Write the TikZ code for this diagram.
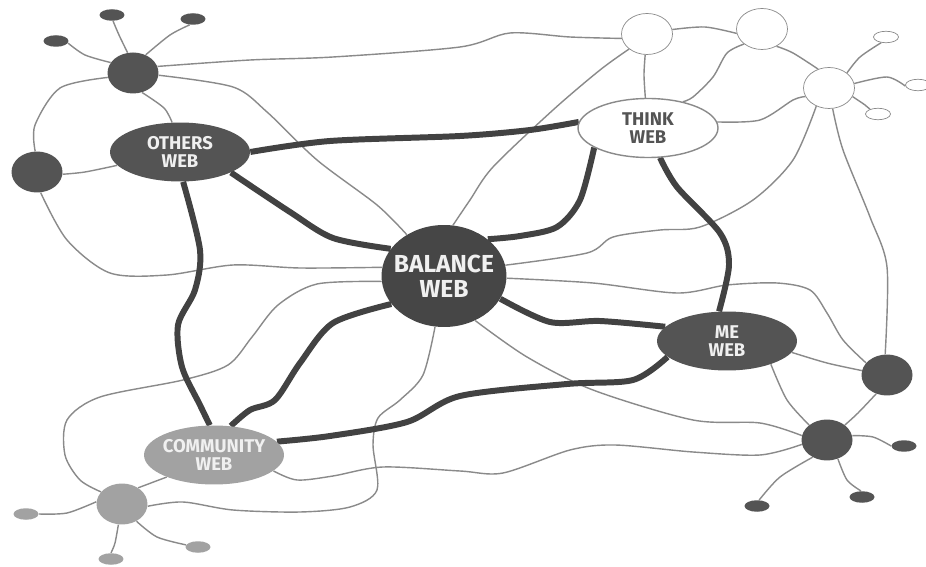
\documentclass[tikz,border=0pt]{standalone}
\usepackage{fontspec}
\setsansfont{Fira Sans}
\usepackage{tikz}
\usetikzlibrary{shapes.geometric,backgrounds}
\definecolor{webdark}{RGB}{84,84,84}
\definecolor{webcore}{RGB}{70,70,70}
\definecolor{weblight}{RGB}{162,162,162}
\definecolor{webrope}{RGB}{66,66,66}
\definecolor{webthread}{RGB}{138,138,138}
\definecolor{webtext}{RGB}{240,240,240}

\newcommand{\webname}[2]{\makebox[0pt]{#1}\\\makebox[0pt]{#2}}

\begin{document}
\begin{tikzpicture}[x=0.02cm, y=-0.02cm,
    web/.style={ellipse, inner sep=0pt, minimum width=2.8cm, minimum height=1.18cm,
        align=center, font=\sffamily\bfseries\fontsize{10.5}{10.5}\selectfont},
    darkweb/.style={web, fill=webdark, text=webtext},
    lightweb/.style={web, fill=weblight, text=webtext},
    whiteweb/.style={web, fill=white, draw=webthread, line width=0.8pt, text=webdark},
    core/.style={web, fill=webcore, text=webtext, minimum width=2.5cm,
        minimum height=2.04cm, font=\sffamily\bfseries\fontsize{14}{14}\selectfont},
    hub/.style={ellipse, inner sep=0pt, minimum width=1.02cm, minimum height=0.82cm},
    bud/.style={ellipse, inner sep=0pt, minimum width=0.5cm, minimum height=0.23cm},
    rope/.style={draw=webrope, line width=3.4pt},
    thread/.style={draw=webthread, line width=0.8pt}
]
\useasboundingbox (0,0) rectangle (926,567);

% main webs
\node[core] (bal) at (444,276) {\webname{BALANCE}{WEB}};
\node[darkweb] (oth) at (180,152) {\webname{OTHERS}{WEB}};
\node[whiteweb] (thk) at (648,128) {\webname{THINK}{WEB}};
\node[darkweb] (me) at (727,341) {\webname{ME}{WEB}};
\node[lightweb] (com) at (214,455) {\webname{COMMUNITY}{WEB}};

% satellites
\node[hub, fill=webdark] (osat1) at (133,73) {};
\node[hub, fill=webdark] (osat2) at (37,172) {};
\node[bud, fill=webdark] (obud1) at (56,41) {};
\node[bud, fill=webdark] (obud2) at (112,15) {};
\node[bud, fill=webdark] (obud3) at (193,19) {};
\node[hub, fill=white, draw=webthread] (tsat1) at (647,34) {};
\node[hub, fill=white, draw=webthread] (tsat2) at (762,29) {};
\node[hub, fill=white, draw=webthread] (tsat3) at (829,88) {};
\node[bud, fill=white, draw=webthread] (tbud1) at (886,37) {};
\node[bud, fill=white, draw=webthread] (tbud2) at (918,85) {};
\node[bud, fill=white, draw=webthread] (tbud3) at (878,114) {};
\node[hub, fill=webdark] (msat1) at (887,375) {};
\node[hub, fill=webdark] (msat2) at (827,440) {};
\node[bud, fill=webdark] (mbud1) at (904,446) {};
\node[bud, fill=webdark] (mbud2) at (862,497) {};
\node[bud, fill=webdark] (mbud3) at (757,506) {};
\node[hub, fill=weblight] (csat) at (122,504) {};
\node[bud, fill=weblight] (cbud1) at (26,514) {};
\node[bud, fill=weblight] (cbud2) at (111,559) {};
\node[bud, fill=weblight] (cbud3) at (198,547) {};

\begin{scope}[on background layer]
\fill[white] (0,0) rectangle (926,567);

% thin threads
\draw[thread] plot[smooth] coordinates {(osat1.15) (250,60) (333,57) (460,47) (510,33) (570,37) (tsat1.190)};
\draw[thread] plot[smooth] coordinates {(osat1.-5) (233,87) (267,112) (317,160) (377,205) (bal.132)};
\draw[thread] plot[smooth] coordinates {(osat1.-65) (164,108) (oth.105)};
\draw[thread] plot[smooth] coordinates {(osat1.190) (60,88) (35,125) (osat2.95)};
\draw[thread] plot[smooth] coordinates {(osat2.-5) (85,172) (oth.192)};
\draw[thread] plot[smooth] coordinates {(osat2.-80) (67,240) (110,273) (167,275) (233,265) (300,268) (bal.172)};
\draw[thread] plot[smooth] coordinates {(osat1.155) (85,55) (obud1.-10)};
\draw[thread] plot[smooth] coordinates {(osat1.105) (119,35) (obud2.-80)};
\draw[thread] plot[smooth] coordinates {(osat1.55) (170,35) (obud3.-120)};
\draw[thread] plot[smooth] coordinates {(bal.185) (317,284) (278,305) (252,337) (228,365) (183,380) (100,397) (67,420) (65,455) (80,480) (csat.150)};
\draw[thread] plot[smooth] coordinates {(bal.-100) (423,375) (400,400) (378,418) (373,445) (377,490) (350,507) (300,512) (233,510) (183,502) (csat.-5)};
\draw[thread] plot[smooth] coordinates {(csat.45) (com.205)};
\draw[thread] plot[smooth] coordinates {(com.-15) (297,480) (333,476) (383,467) (460,471) (503,473) (570,450) (615,445) (693,452) (760,455) (msat2.190)};
\draw[thread] plot[smooth] coordinates {(bal.-55) (527,357) (593,390) (693,420) (760,423) (msat2.170)};
\draw[thread] plot[smooth] coordinates {(bal.10) (587,253) (613,237) (660,230) (700,227) (753,200) (793,160) (tsat3.-125)};
\draw[thread] plot[smooth] coordinates {(bal.-2) (593,283) (677,293) (727,285) (777,283) (810,290) (827,313) (843,340) (msat1.150)};
\draw[thread] plot[smooth] coordinates {(tsat3.-80) (843,150) (870,217) (887,267) (msat1.95)};
\draw[thread] plot[smooth] coordinates {(me.-10) (827,363) (msat1.170)};
\draw[thread] plot[smooth] coordinates {(me.-28) (787,400) (msat2.140)};
\draw[thread] plot[smooth] coordinates {(msat1.-120) (858,413) (msat2.40)};
\draw[thread] plot[smooth] coordinates {(msat2.10) (873,437) (mbud1.180)};
\draw[thread] plot[smooth] coordinates {(msat2.-60) (847,480) (mbud2.100)};
\draw[thread] plot[smooth] coordinates {(msat2.-130) (780,477) (mbud3.70)};
\draw[thread] plot[smooth] coordinates {(tsat1.10) (705,27) (tsat2.190)};
\draw[thread] plot[smooth] coordinates {(tsat1.-95) (644,75) (thk.95)};
\draw[thread] plot[smooth] coordinates {(tsat1.-140) (600,70) (553,110) (493,167) (470,200) (bal.80)};
\draw[thread] plot[smooth] coordinates {(tsat2.-140) (727,53) (713,77) (693,97) (thk.37)};
\draw[thread] plot[smooth] coordinates {(tsat2.-50) (793,53) (tsat3.120)};
\draw[thread] plot[smooth] coordinates {(thk.5) (760,120) (793,100) (tsat3.200)};
\draw[thread] plot[smooth] coordinates {(tsat3.40) (860,57) (tbud1.-130)};
\draw[thread] plot[smooth] coordinates {(tsat3.10) (887,77) (tbud2.185)};
\draw[thread] plot[smooth] coordinates {(tsat3.-20) (865,105) (tbud3.150)};
\draw[thread] plot[smooth] coordinates {(csat.175) (67,513) (cbud1.0)};
\draw[thread] plot[smooth] coordinates {(csat.-100) (115,543) (cbud2.90)};
\draw[thread] plot[smooth] coordinates {(csat.-50) (157,537) (cbud3.170)};

% thick ropes
\draw[rope] plot[smooth] coordinates {(oth.east) (330,141) (460,136) (530,130) (thk.175)};
\draw[rope] plot[smooth] coordinates {(oth.-22) (290,212) (333,238) (bal.153)};
\draw[rope] plot[smooth] coordinates {(oth.-84) (200,250) (195,290) (178,325) (182,367) (200,405) (com.98)};
\draw[rope] plot[smooth] coordinates {(thk.200) (580,200) (557,227) (520,236) (bal.40)};
\draw[rope] plot[smooth] coordinates {(thk.-68) (677,187) (720,233) (729,265) (me.105)};
\draw[rope] plot[smooth] coordinates {(bal.-22) (550,322) (600,321) (me.167)};
\draw[rope] plot[smooth] coordinates {(bal.208) (333,323) (300,363) (275,400) (250,410) (com.60)};
\draw[rope] plot[smooth] coordinates {(me.195) (633,380) (567,384) (460,396) (407,422) (330,436) (com.12)};
\end{scope}

\end{tikzpicture}
\end{document}
